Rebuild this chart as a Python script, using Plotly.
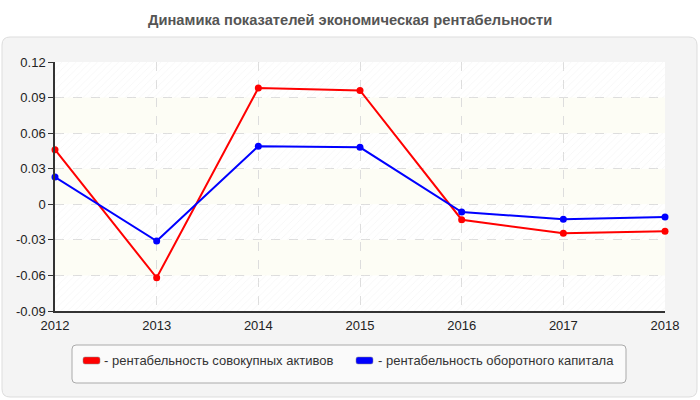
import plotly.graph_objects as go

years = [2012, 2013, 2014, 2015, 2016, 2017, 2018]
roa = [0.046, -0.062, 0.098, 0.096, -0.013, -0.0245, -0.0228]
rwc = [0.023, -0.031, 0.049, 0.048, -0.0065, -0.0127, -0.0107]
series_names = ["- рентабельность совокупных активов", "- рентабельность оборотного капитала"]
series_colors = ["#ff0000", "#0000ff"]
y_ticks = [-0.09, -0.06, -0.03, 0, 0.03, 0.06, 0.09, 0.12]
y_ticktext = ["-0.09", "-0.06", "-0.03", "0", "0.03", "0.06", "0.09", "0.12"]
title = "Динамика показателей экономическая рентабельности"

W, H = 700, 400
L, R, T, B = 55, 665, 62, 311
FONT = "Liberation Sans, Arial, sans-serif"


def px(x):
    return (x - L) / (R - L)


def py(y):
    return (B - y) / (B - T)


def rounded_path(x0, y0, x1, y1, r):
    pts = []
    pts.append(f"M {px(x0 + r)},{py(y0)}")
    pts.append(f"L {px(x1 - r)},{py(y0)}")
    pts.append(f"Q {px(x1)},{py(y0)} {px(x1)},{py(y0 + r)}")
    pts.append(f"L {px(x1)},{py(y1 - r)}")
    pts.append(f"Q {px(x1)},{py(y1)} {px(x1 - r)},{py(y1)}")
    pts.append(f"L {px(x0 + r)},{py(y1)}")
    pts.append(f"Q {px(x0)},{py(y1)} {px(x0)},{py(y1 - r)}")
    pts.append(f"L {px(x0)},{py(y0 + r)}")
    pts.append(f"Q {px(x0)},{py(y0)} {px(x0 + r)},{py(y0)}")
    pts.append("Z")
    return " ".join(pts)


fig = go.Figure()

# hatched bands
hatch_bands = [(0.09, 0.12), (0.03, 0.06), (-0.03, 0.0), (-0.09, -0.06)]
for lo, hi in hatch_bands:
    fig.add_trace(go.Bar(
        x=[2015], y=[hi - lo], base=[lo], width=[6],
        marker=dict(color="rgba(0,0,0,0)", line=dict(width=0),
                    pattern=dict(shape="/", fgcolor="#ececec", bgcolor="rgba(0,0,0,0)",
                                 size=5, solidity=0.15)),
        hoverinfo="skip", showlegend=False,
    ))

for name, vals, col in zip(series_names, [roa, rwc], series_colors):
    fig.add_trace(go.Scatter(
        x=years, y=vals, mode="lines+markers", name=name,
        line=dict(color=col, width=2),
        marker=dict(color=col, size=7),
        cliponaxis=False, showlegend=False,
    ))

shapes = []
# outer panel
shapes.append(dict(type="path", xref="paper", yref="paper", layer="below",
                   path=rounded_path(2, 37, 697, 397, 8),
                   fillcolor="#f4f4f4", line=dict(color="#dddddd", width=1)))
# plot area background
shapes.append(dict(type="rect", xref="x", yref="y", layer="below",
                   x0=2012, x1=2018, y0=-0.09, y1=0.12,
                   fillcolor="#ffffff", line=dict(width=0)))
for lo, hi in [(0.06, 0.09), (0.0, 0.03), (-0.06, -0.03)]:
    shapes.append(dict(type="rect", xref="x", yref="y", layer="below",
                       x0=2012, x1=2018, y0=lo, y1=hi,
                       fillcolor="#fdfdf5", line=dict(width=0)))
# legend box
shapes.append(dict(type="path", xref="paper", yref="paper", layer="above",
                   path=rounded_path(72, 345, 626, 383, 4),
                   fillcolor="#fafafa", line=dict(color="#aaaaaa", width=1)))
# legend swatches
swatch_x = [(83, 100), (356, 373)]
text_x = [102, 376]
annotations = []
for (sx0, sx1), tx, name, col in zip(swatch_x, text_x, series_names, series_colors):
    shapes.append(dict(type="path", xref="paper", yref="paper", layer="above",
                       path=rounded_path(sx0, 357, sx1, 364, 2),
                       fillcolor=col, line=dict(color="#888888", width=0.5)))
    annotations.append(dict(xref="paper", yref="paper", x=px(tx), y=py(360.5),
                            xanchor="left", yanchor="middle", showarrow=False,
                            text=name, font=dict(family=FONT, size=13, color="#333333")))

annotations.append(dict(xref="paper", yref="paper", x=px(350), y=py(20),
                        xanchor="center", yanchor="middle", showarrow=False,
                        text="<b>" + title + "</b>",
                        font=dict(family=FONT, size=14.7, color="#555555")))

fig.update_layout(
    width=W, height=H,
    margin=dict(l=L, r=W - R, t=T, b=H - B, pad=0),
    paper_bgcolor="#ffffff", plot_bgcolor="#ffffff",
    barmode="overlay", bargap=0,
    showlegend=False,
    shapes=shapes, annotations=annotations,
    font=dict(family=FONT, size=13, color="#222222"),
    xaxis=dict(range=[2012, 2018], tickvals=years, ticktext=[str(y) for y in years],
               showline=True, linecolor="#333333", linewidth=1.5,
               showgrid=True, gridcolor="#dddddd", griddash="dash", gridwidth=1,
               ticks="", zeroline=False, fixedrange=True, ticklabelstandoff=2,
               tickfont=dict(family=FONT, size=13, color="#222222")),
    yaxis=dict(range=[-0.09, 0.12], tickvals=y_ticks, ticktext=y_ticktext,
               showline=True, linecolor="#333333", linewidth=1.5,
               showgrid=True, gridcolor="#dddddd", griddash="dash", gridwidth=1,
               ticks="outside", ticklen=5, tickcolor="#333333",
               zeroline=False, fixedrange=True,
               tickfont=dict(family=FONT, size=13, color="#222222")),
)

fig.write_html("out.html")
